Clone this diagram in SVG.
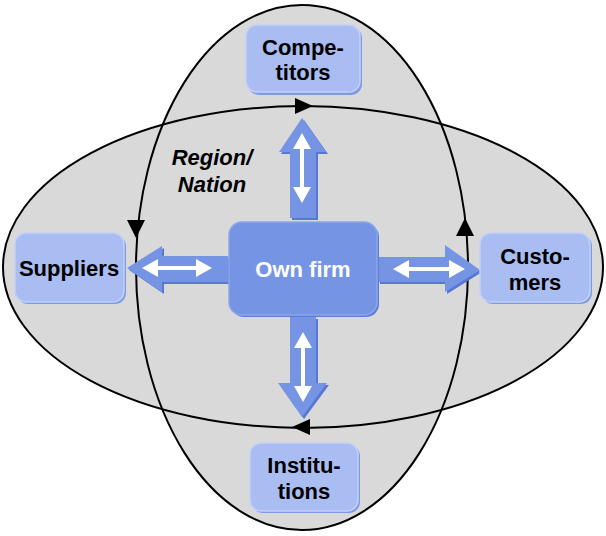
<svg xmlns="http://www.w3.org/2000/svg" width="606" height="536" viewBox="0 0 606 536">
<style>
.bg{fill:#d9d9d9;stroke:none}
.ring{fill:none;stroke:#000;stroke-width:2}
.head{fill:#000}
.box{fill:#a9bdf3;stroke:#c3d1f8;stroke-width:1.5}
.boxsh{fill:#7f9be6}
.firm{fill:#7595e4;stroke:#8aa6ea;stroke-width:1.5}
.firmsh{fill:#5d7dd8}
.arr{fill:#7595e4}
.arrsh{fill:#5677d6}
.wa{fill:#fff}
.t{font-family:"Liberation Sans",Arial,sans-serif;font-weight:bold;font-size:22px;text-anchor:middle;fill:#000}
.tw{fill:#fff}
.ti{font-style:italic}
</style>
<rect width="606" height="536" fill="#fff"/>
<g id="background">
<ellipse class="bg" cx="302" cy="267.5" rx="166" ry="262.5"/>
<ellipse class="bg" cx="303" cy="267" rx="300" ry="161"/>
</g>
<g id="connectors">
<ellipse class="ring" cx="302" cy="267.5" rx="166" ry="262.5"/>
<ellipse class="ring" cx="303" cy="267" rx="300" ry="161"/>
<polygon class="head" points="313,106 295,98 295,114"/>
<polygon class="head" points="292,427 310,419 310,435"/>
<polygon class="head" points="136,238 127,220 145,220"/>
<polygon class="head" points="465,218 456,236 474,236"/>
<!-- up arrow -->
<polygon class="arrsh" transform="translate(2,2)" points="302,118 326,152 316,152 316,218 290,218 290,152 279,152"/>
<polygon class="arr" points="302,118 326,152 316,152 316,218 290,218 290,152 279,152"/>
<polygon class="wa" points="302,133 311,149 304,149 304,187 311,187 302,203 293,187 300,187 300,149 293,149"/>
<!-- down arrow -->
<polygon class="arrsh" transform="translate(2,2)" points="290,317 316,317 316,383 327,383 302,417 278,383 290,383"/>
<polygon class="arr" points="290,317 316,317 316,383 327,383 302,417 278,383 290,383"/>
<polygon class="wa" points="303,332 312,348 305,348 305,386 312,386 303,402 294,386 301,386 301,348 294,348"/>
<!-- left arrow -->
<polygon class="arrsh" transform="translate(2,2)" points="127,268 162,246 162,256 228,256 228,282 162,282 162,292"/>
<polygon class="arr" points="127,268 162,246 162,256 228,256 228,282 162,282 162,292"/>
<polygon class="wa" points="142,268 158,259 158,266 196,266 196,259 212,268 196,277 196,270 158,270 158,277"/>
<!-- right arrow -->
<polygon class="arrsh" transform="translate(2,2)" points="378,257 445,257 445,245 480,270 445,292 445,282 378,282"/>
<polygon class="arr" points="378,257 445,257 445,245 480,270 445,292 445,282 378,282"/>
<polygon class="wa" points="393,269 409,260 409,267 449,267 449,260 465,269 449,278 449,271 409,271 409,278"/>
</g>
<g id="region-label">
<text class="t ti" x="212" y="165">Region/</text>
<text class="t ti" x="212" y="192">Nation</text>
</g>
<g id="competitors">
<rect class="boxsh" x="248" y="27" width="114" height="68" rx="11"/>
<rect class="box" x="246" y="25" width="114" height="67" rx="11"/>
<text class="t" x="303" y="55">Compe-</text>
<text class="t" x="303" y="80">titors</text>
</g>
<g id="suppliers">
<rect class="boxsh" x="17" y="235" width="109" height="69" rx="11"/>
<rect class="box" x="15" y="233" width="109" height="69" rx="11"/>
<text class="t" x="69" y="276">Suppliers</text>
</g>
<g id="customers">
<rect class="boxsh" x="482" y="235" width="110" height="69" rx="11"/>
<rect class="box" x="480" y="233" width="110" height="69" rx="11"/>
<text class="t" x="535" y="264">Custo-</text>
<text class="t" x="535" y="290">mers</text>
</g>
<g id="institutions">
<rect class="boxsh" x="252" y="445" width="108" height="68" rx="11"/>
<rect class="box" x="250" y="443" width="108" height="68" rx="11"/>
<text class="t" x="304" y="473">Institu-</text>
<text class="t" x="304" y="499">tions</text>
</g>
<g id="own-firm">
<rect class="firmsh" x="231" y="224" width="148" height="93" rx="13"/>
<rect class="firm" x="229" y="222" width="148" height="93" rx="13"/>
<text class="t tw" x="303" y="277">Own firm</text>
</g>
</svg>
